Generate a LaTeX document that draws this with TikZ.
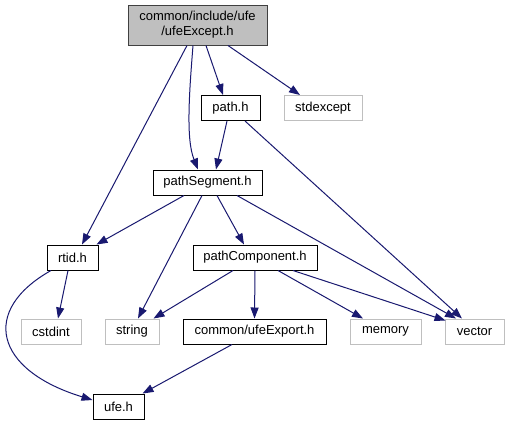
\documentclass[tikz,border=0pt]{standalone}
\usepackage{fontspec}
\setmainfont{Liberation Sans}
\usetikzlibrary{arrows.meta}
\definecolor{edgeblue}{HTML}{191970}
\definecolor{extgrey}{HTML}{BFBFBF}
\tikzset{
  box/.style={draw=black, line width=1bp, fill=white, inner sep=0pt, minimum height=25bp,
    font=\fontsize{13bp}{15bp}\selectfont, text=black},
  extbox/.style={box, draw=extgrey},
  rootbox/.style={box, fill=extgrey, draw=black!75, align=center, minimum height=40bp},
  dep/.style={draw=edgeblue, line width=1bp, -{Triangle[length=11bp,width=8bp]}, edgeblue},
}
\begin{document}
\begin{tikzpicture}[x=1bp,y=-1bp]
\useasboundingbox[fill=white] (0,0) rectangle (510,425);
\node[rootbox, minimum width=139bp] (top) at (197.5,25) {common/include/ufe\\/ufeExcept.h};
\node[box, minimum width=59bp] (path) at (230.5,108) {path.h};
\node[extbox, minimum width=78bp] (stdexcept) at (323,108) {stdexcept};
\node[box, minimum width=109bp] (seg) at (207.5,182.5) {pathSegment.h};
\node[box, minimum width=51bp] (rtid) at (72.5,257.5) {rtid.h};
\node[box, minimum width=124bp] (pcomp) at (255,257.5) {pathComponent.h};
\node[extbox, minimum width=60bp] (cstdint) at (51,331.5) {cstdint};
\node[extbox, minimum width=54bp] (string) at (132,331.5) {string};
\node[box, minimum width=143bp] (export) at (254.5,331.5) {common/ufeExport.h};
\node[extbox, minimum width=71bp] (memory) at (385.5,331.5) {memory};
\node[extbox, minimum width=59bp] (vector) at (474.5,331.5) {vector};
\node[box, minimum width=51bp] (ufe) at (118.5,406.5) {ufe.h};

\draw[dep] ([xshift=-10.5bp]top.south) -- ([xshift=9.5bp]rtid.north);
\draw[dep] ([xshift=-4.5bp]top.south) .. controls +(-4,50) and +(-12,-30) .. ([xshift=-9.5bp]seg.north);
\draw[dep] ([xshift=8.5bp]top.south) -- ([xshift=-7.5bp]path.north);
\draw[dep] ([xshift=30.5bp]top.south) -- ([xshift=-23bp]stdexcept.north);
\draw[dep] ([xshift=-3.5bp]path.south) -- ([xshift=8.5bp]seg.north);
\draw[dep] ([xshift=14.5bp]path.south) -- ([xshift=-12.5bp]vector.north);
\draw[dep] ([xshift=-23.5bp]seg.south) -- ([xshift=-2bp]rtid.north east);
\draw[dep] ([xshift=-5.5bp]seg.south) -- ([xshift=6bp]string.north);
\draw[dep] ([xshift=9.5bp]seg.south) -- ([xshift=-11bp]pcomp.north);
\draw[dep] ([xshift=29.5bp]seg.south) -- ([xshift=-18.5bp]vector.north);
\draw[dep] ([xshift=-4.5bp]rtid.south) -- ([xshift=7bp]cstdint.north);
\draw[dep] ([xshift=-21.5bp]rtid.south) .. controls +(-71,40) and +(-98,-30) .. ([yshift=6.5bp]ufe.west);
\draw[dep] ([xshift=-22bp]pcomp.south) -- ([xshift=-6bp]string.north east);
\draw[dep] (pcomp.south) -- (export.north);
\draw[dep] ([xshift=23bp]pcomp.south) -- ([xshift=-22.5bp]memory.north);
\draw[dep] ([xshift=38bp]pcomp.south) -- ([xshift=1bp,yshift=-2bp]vector.north west);
\draw[dep] ([xshift=-22.5bp]export.south) -- ([xshift=-2bp]ufe.north east);
\end{tikzpicture}
\end{document}
